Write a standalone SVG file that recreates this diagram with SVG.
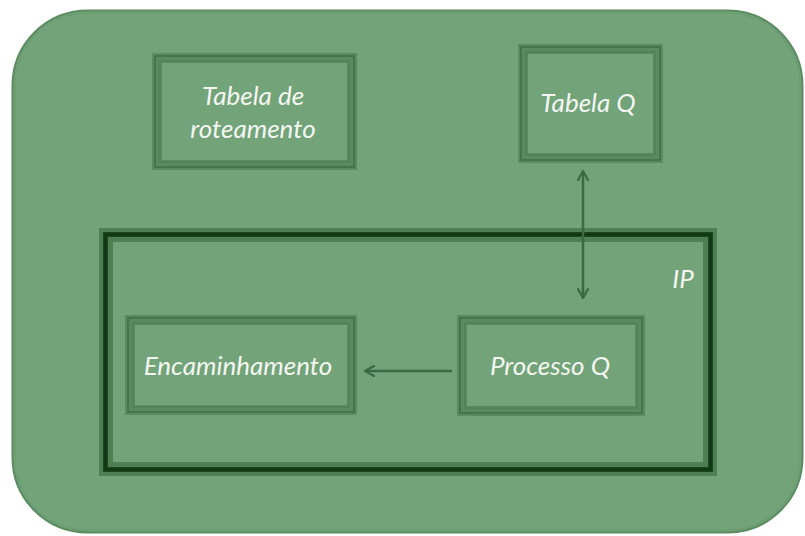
<svg xmlns="http://www.w3.org/2000/svg" width="805" height="536" viewBox="0 0 805 536">
  <style>
    .band { fill: none; stroke: #598b5e; stroke-width: 10; }
    .edge { fill: none; stroke: #426f46; stroke-width: 1.5; }
    .inner { fill: none; stroke: #4e7f53; stroke-width: 1; }
    .label { font-family: Lato, "Open Sans", sans-serif; font-style: italic; font-size: 26px; fill: #f4f6f2; text-anchor: middle; }
    .conn { stroke: #3e6a43; stroke-width: 2.5; fill: none; }
  </style>
  <defs>
    <marker id="arrow" viewBox="0 0 12 12" refX="10" refY="6" markerWidth="12" markerHeight="12" markerUnits="userSpaceOnUse" orient="auto-start-reverse">
      <path d="M1,1 L10,6 L1,11" fill="none" stroke="#3e6a43" stroke-width="2.2" stroke-linecap="round" stroke-linejoin="round"/>
    </marker>
  </defs>

  <!-- host container -->
  <g id="host">
    <rect x="12.5" y="10.5" width="790" height="522" rx="75" ry="75" fill="#72a379" stroke="#5b8c60" stroke-width="2"/>
    <rect x="15" y="13" width="785" height="517" rx="72" ry="72" fill="none" stroke="#6a9b70" stroke-width="1"/>
  </g>

  <!-- IP layer -->
  <g id="ip">
    <rect x="106" y="235" width="604" height="234" fill="none" stroke="#4f8054" stroke-width="14"/>
    <rect x="105.5" y="234.5" width="605" height="235" fill="none" stroke="#1a451e" stroke-width="5"/>
    <rect x="105.5" y="234.5" width="605" height="235" fill="none" stroke="#0c3510" stroke-width="2"/>
    <text class="label" x="683" y="288">IP</text>
  </g>

  <g id="tabela-roteamento">
    <rect class="band" x="157" y="58" width="195" height="107"/>
    <rect class="edge" x="155" y="56" width="199" height="111"/>
    <rect class="inner" x="160" y="61" width="189" height="101"/>
    <text class="label" x="253" y="105">Tabela de</text>
    <text class="label" x="253" y="138">roteamento</text>
  </g>

  <g id="tabela-q">
    <rect class="band" x="523" y="49" width="135" height="109"/>
    <rect class="edge" x="521" y="47" width="139" height="113"/>
    <rect class="inner" x="526" y="52" width="129" height="103"/>
    <text class="label" x="588" y="112">Tabela Q</text>
  </g>

  <g id="encaminhamento">
    <rect class="band" x="130" y="320" width="222" height="90"/>
    <rect class="edge" x="128" y="318" width="226" height="94"/>
    <rect class="inner" x="133" y="323" width="216" height="84"/>
    <text class="label" x="238" y="375">Encaminhamento</text>
  </g>

  <g id="processo-q">
    <rect class="band" x="462" y="320" width="178" height="91"/>
    <rect class="edge" x="460" y="318" width="182" height="95"/>
    <rect class="inner" x="465" y="323" width="172" height="85"/>
    <text class="label" x="550" y="375">Processo Q</text>
  </g>

  <g id="connectors">
    <line class="conn" x1="583" y1="171" x2="583" y2="298" marker-start="url(#arrow)" marker-end="url(#arrow)"/>
    <line class="conn" x1="452" y1="371" x2="365" y2="371" marker-end="url(#arrow)"/>
  </g>
</svg>
